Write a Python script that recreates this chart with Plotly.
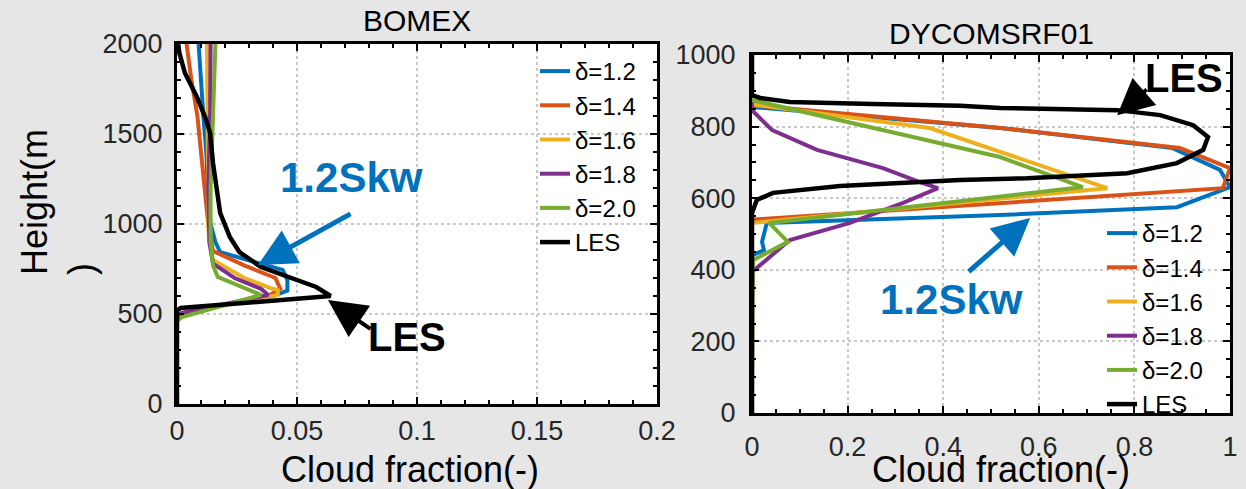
import plotly.graph_objects as go

# ---------------- data ----------------
labels = ["δ=1.2", "δ=1.4", "δ=1.6", "δ=1.8", "δ=2.0", "LES"]
colors = ["#0072BD", "#D95319", "#EDB120", "#7E2F8E", "#77AC30", "#000000"]

# BOMEX (height m, cloud fraction)
bomex_h_12 = [0, 470, 505, 600, 630, 690, 745, 780, 844, 900, 1000, 1200, 1400, 1600, 1800, 2000]
bomex_cf_12 = [0, 0, 0.002, 0.040, 0.046, 0.046, 0.044, 0.035, 0.018, 0.016, 0.014, 0.0128, 0.0122, 0.011, 0.010, 0.009]
bomex_h_14 = [0, 470, 505, 600, 640, 700, 770, 850, 1000, 1200, 1400, 1600, 1800, 2000]
bomex_cf_14 = [0, 0, 0.002, 0.038, 0.043, 0.041, 0.028, 0.015, 0.013, 0.0115, 0.010, 0.0085, 0.006, 0.004]
bomex_h_16 = [0, 470, 505, 606, 633, 644, 700, 800, 900, 1000, 1200, 1600, 2000]
bomex_cf_16 = [0, 0, 0.002, 0.042, 0.042, 0.039, 0.028, 0.015, 0.0135, 0.013, 0.013, 0.0127, 0.0125]
bomex_h_18 = [0, 470, 505, 606, 640, 700, 780, 900, 1200, 1600, 2000]
bomex_cf_18 = [0, 0, 0.002, 0.038, 0.035, 0.024, 0.015, 0.0135, 0.013, 0.0138, 0.014]
bomex_h_20 = [0, 460, 483, 606, 706, 770, 900, 1200, 1600, 2000]
bomex_cf_20 = [0, 0, 0.002, 0.035, 0.017, 0.015, 0.014, 0.014, 0.015, 0.016]
bomex_h_les = [0, 520, 533, 600, 650, 706, 761, 844, 928, 1061, 1150, 1339, 1506, 1594, 1706, 1839, 1950, 2000]
bomex_cf_les = [0, 0, 0.0015, 0.064, 0.058, 0.046, 0.035, 0.026, 0.022, 0.018, 0.017, 0.015, 0.0138, 0.0117, 0.0083, 0.0033, 0.001, 0.0005]

# DYCOMS RF01
dy_h_12 = [0, 440, 455, 478, 531, 553, 575, 631, 679, 740, 796, 855, 1000]
dy_cf_12 = [0, 0, 0.025, 0.021, 0.031, 0.52, 0.889, 1.0, 0.979, 0.88, 0.52, 0, 0]
dy_h_14 = [0, 540, 628, 684, 740, 796, 860, 1000]
dy_cf_14 = [0, 0, 0.985, 1.0, 0.895, 0.519, 0, 0]
dy_h_16 = [0, 531, 628, 796, 862, 1000]
dy_cf_16 = [0, 0, 0.743, 0.372, 0, 0]
dy_h_18 = [0, 394, 483, 531, 587, 628, 645, 684, 735, 790, 846, 1000]
dy_cf_18 = [0, 0, 0.079, 0.205, 0.316, 0.389, 0.351, 0.274, 0.136, 0.042, 0, 0]
dy_h_20 = [0, 420, 427, 478, 531, 631, 715, 874, 1000]
dy_cf_20 = [0, 0, 0.002, 0.075, 0.036, 0.692, 0.519, 0, 0]
dy_h_les = [0, 559, 595, 615, 634, 651, 656, 670, 698, 735, 771, 804, 832, 846, 852, 858, 863, 869, 880, 888, 1000]
dy_cf_les = [0, 0, 0.010, 0.044, 0.184, 0.435, 0.575, 0.785, 0.889, 0.944, 0.954, 0.923, 0.854, 0.764, 0.519, 0.435, 0.253, 0.079, 0.017, 0.0, 0.0]

bomex_series = [(bomex_h_12, bomex_cf_12), (bomex_h_14, bomex_cf_14), (bomex_h_16, bomex_cf_16),
                (bomex_h_18, bomex_cf_18), (bomex_h_20, bomex_cf_20), (bomex_h_les, bomex_cf_les)]
dy_series = [(dy_h_12, dy_cf_12), (dy_h_14, dy_cf_14), (dy_h_16, dy_cf_16),
             (dy_h_18, dy_cf_18), (dy_h_20, dy_cf_20), (dy_h_les, dy_cf_les)]

FONT = "Liberation Sans, Arial, sans-serif"
W, H = 1246, 489

fig = go.Figure()
for i, (h, cf) in enumerate(bomex_series):
    fig.add_trace(go.Scatter(x=cf, y=h, mode="lines", name=labels[i],
                             line=dict(color=colors[i], width=4.5 if i == 5 else 4),
                             xaxis="x", yaxis="y", legend="legend"))
for i, (h, cf) in enumerate(dy_series):
    fig.add_trace(go.Scatter(x=cf, y=h, mode="lines", name=labels[i],
                             line=dict(color=colors[i], width=4.5 if i == 5 else 4),
                             xaxis="x2", yaxis="y2", legend="legend2"))


def px_x(p):
    return p / W


def px_y(p):
    return 1 - p / H


axis_common = dict(showline=True, linewidth=3, linecolor="black", mirror="allticks",
                   ticks="inside", ticklen=7, tickwidth=2, tickcolor="black", automargin=False,
                   showgrid=True, gridcolor="#c8c8c8", griddash="dot", gridwidth=1.5,
                   zeroline=False, tickfont=dict(family=FONT, size=27, color="#262626"))

fig.update_layout(
    width=W, height=H,
    margin=dict(l=0, r=0, t=0, b=0),
    paper_bgcolor="#e6e6e6", plot_bgcolor="white",
    showlegend=True,
    xaxis=dict(domain=[px_x(177), px_x(657)], range=[0, 0.2], dtick=0.05, anchor="y",
               minor=dict(dtick=0.01, ticks="inside", ticklen=4, tickwidth=2, tickcolor="black", showgrid=False),
               ticklabelstandoff=1, **axis_common),
    yaxis=dict(domain=[px_y(404), px_y(44)], range=[0, 2000], dtick=500, anchor="x",
               minor=dict(dtick=100, ticks="inside", ticklen=4, tickwidth=2, tickcolor="black", showgrid=False),
               ticklabelstandoff=6, **axis_common),
    xaxis2=dict(domain=[px_x(752), px_x(1230)], range=[0, 1], dtick=0.2, anchor="y2",
                minor=dict(dtick=0.05, ticks="inside", ticklen=4, tickwidth=2, tickcolor="black", showgrid=False),
                ticklabelstandoff=8, **axis_common),
    yaxis2=dict(domain=[px_y(413), px_y(55)], range=[0, 1000], dtick=200, anchor="x2",
                minor=dict(dtick=50, ticks="inside", ticklen=4, tickwidth=2, tickcolor="black", showgrid=False),
                ticklabelstandoff=8, **axis_common),
    legend=dict(x=px_x(535), y=px_y(49), xanchor="left", yanchor="top",
                bgcolor="rgba(0,0,0,0)", font=dict(family=FONT, size=24, color="black"),
                tracegroupgap=0),
    legend2=dict(x=px_x(1102), y=px_y(211), xanchor="left", yanchor="top",
                 bgcolor="rgba(0,0,0,0)", font=dict(family=FONT, size=24, color="black"),
                 tracegroupgap=0),
)

ann = []
C = dict(xanchor="center", yanchor="middle")
# titles
ann.append(dict(text="BOMEX", x=px_x(417), y=px_y(21), xref="paper", yref="paper",
                showarrow=False, font=dict(family=FONT, size=30, color="black"), **C))
ann.append(dict(text="DYCOMSRF01", x=px_x(991), y=px_y(33), xref="paper", yref="paper",
                showarrow=False, font=dict(family=FONT, size=30, color="black"), **C))
# axis titles
ann.append(dict(text="Cloud fraction(-)", x=px_x(410), y=px_y(469), xref="paper", yref="paper",
                showarrow=False, font=dict(family=FONT, size=36, color="black"), **C))
ann.append(dict(text="Cloud fraction(-)", x=px_x(1001), y=px_y(469), xref="paper", yref="paper",
                showarrow=False, font=dict(family=FONT, size=36, color="black"), **C))
ann.append(dict(text="Height(m<br>)", x=px_x(58), y=px_y(202), xref="paper", yref="paper",
                textangle=-90, align="left", showarrow=False,
                font=dict(family=FONT, size=36, color="black"), **C))
# callouts
ann.append(dict(text="<b>1.2Skw</b>", x=0.0725, y=1256, xref="x", yref="y", showarrow=False,
                font=dict(family=FONT, size=42, color="#0072BD"), **C))
ann.append(dict(text="<b>LES</b>", x=0.0958, y=372, xref="x", yref="y", showarrow=False,
                font=dict(family=FONT, size=40, color="black"), **C))
ann.append(dict(text="<b>1.2Skw</b>", x=0.418, y=316, xref="x2", yref="y2", showarrow=False,
                font=dict(family=FONT, size=42, color="#0072BD"), **C))
ann.append(dict(text="<b>LES</b>", x=0.904, y=936, xref="x2", yref="y2", showarrow=False,
                font=dict(family=FONT, size=40, color="black"), **C))
# arrows
ann.append(dict(text="", x=0.03375, y=772, xref="x", yref="y", ax=94, ay=-52, showarrow=True,
                arrowhead=2, arrowwidth=5, arrowsize=1.5, arrowcolor="#0072BD"))
ann.append(dict(text="", x=0.0629, y=578, xref="x", yref="y", ax=44, ay=30, showarrow=True,
                arrowhead=2, arrowwidth=4, arrowsize=1.9, arrowcolor="black"))
ann.append(dict(text="", x=0.764, y=832, xref="x2", yref="y2", ax=31, ay=-27, showarrow=True,
                arrowhead=2, arrowwidth=4, arrowsize=1.8, arrowcolor="black"))
ann.append(dict(text="", x=0.582, y=545, xref="x2", yref="y2", ax=-63, ay=55, showarrow=True,
                arrowhead=2, arrowwidth=5, arrowsize=1.5, arrowcolor="#0072BD"))
fig.update_layout(annotations=ann)

fig.write_html("out.html")
